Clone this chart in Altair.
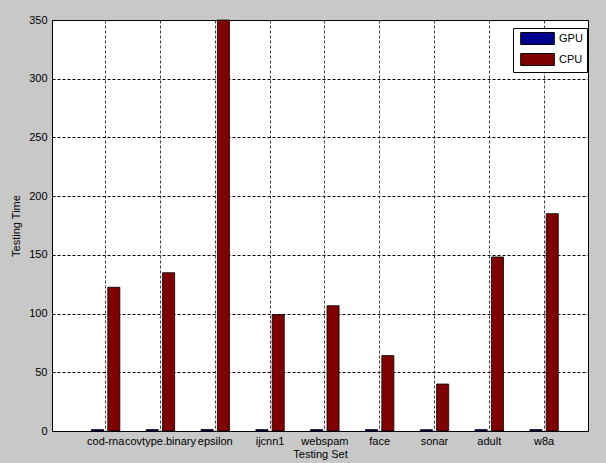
import altair as alt
import pandas as pd

datasets = ["cod-rna", "covtype.binary", "epsilon", "ijcnn1", "webspam",
            "face", "sonar", "adult", "w8a"]
gpu_time = [1.2, 1.2, 1.3, 1.2, 1.2, 1.2, 1.1, 1.2, 1.2]
cpu_time = [122.4, 134.8, 350.0, 99.1, 106.7, 64.2, 40.0, 148.2, 185.1]
devices = ["GPU", "CPU"]
device_colors = ["#00008F", "#800000"]
y_ticks = [0, 50, 100, 150, 200, 250, 300, 350]

rows = []
for d, g, c in zip(datasets, gpu_time, cpu_time):
    rows.append({"dataset": d, "device": "GPU", "time": g})
    rows.append({"dataset": d, "device": "CPU", "time": c})
df = pd.DataFrame(rows)

FONT = "Liberation Sans"

chart = alt.Chart(df).mark_bar(stroke="black", strokeWidth=0.8).encode(
    x=alt.X(
        "dataset:N",
        sort=datasets,
        scale=alt.Scale(paddingInner=0, paddingOuter=0.39, align=0.614),
        axis=alt.Axis(
            title="Testing Set", bandPosition=0.5, grid=True,
            gridDash=[3, 2], gridColor="black", gridOpacity=0.75, gridWidth=1,
            labelAngle=0, ticks=False, domain=False, labelPadding=4,
            titlePadding=2, labelOverlap=False,
        ),
    ),
    xOffset=alt.XOffset(
        "device:N", sort=devices,
        scale=alt.Scale(paddingInner=0.26, paddingOuter=0.81),
    ),
    y=alt.Y(
        "time:Q",
        scale=alt.Scale(domain=[0, 350], nice=False),
        axis=alt.Axis(
            title="Testing Time", values=y_ticks, grid=True,
            gridDash=[3, 2], gridColor="black", gridWidth=1,
            ticks=False, domain=False, labelPadding=5, titlePadding=7,
        ),
    ),
    color=alt.Color(
        "device:N",
        sort=devices,
        scale=alt.Scale(domain=devices, range=device_colors),
        legend=alt.Legend(
            title=None, orient="none", legendX=461, legendY=8,
            fillColor="white", strokeColor="black", padding=4,
            symbolType="M-2.8,-1L2.8,-1L2.8,1L-2.8,1Z", symbolSize=144,
            symbolStrokeColor="black", symbolStrokeWidth=1, symbolOpacity=1,
            symbolOffset=14, labelOffset=15, rowPadding=4,
            labelFont=FONT, labelFontSize=11, labelColor="black",
        ),
    ),
).properties(
    width=536, height=411,
    autosize=alt.AutoSizeParams(type="none"),
    padding={"left": 52, "top": 20, "right": 18, "bottom": 32},
    background="#C8C8C8",
).configure_view(
    fill="white", stroke="black", strokeWidth=1,
).configure_axis(
    labelFont=FONT, labelFontSize=11, labelColor="black",
    titleFont=FONT, titleFontSize=11, titleFontWeight="normal", titleColor="black",
)

chart.save("out.html", embed_options={"renderer": "svg", "actions": False})
